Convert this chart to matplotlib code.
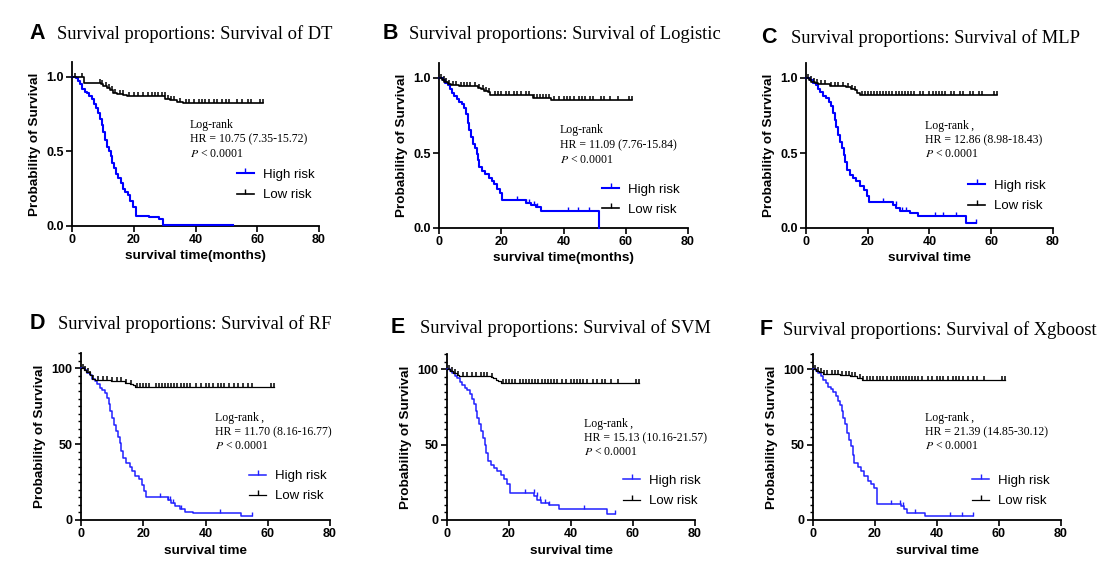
import matplotlib
matplotlib.use("Agg")
import matplotlib.pyplot as plt
import numpy as np
from matplotlib.lines import Line2D
from matplotlib.ticker import MultipleLocator, FormatStrFormatter

plt.rcParams['font.family'] = ['Liberation Sans', 'DejaVu Sans']
plt.rcParams['mathtext.fontset'] = 'stix'

# ---------------- data ----------------
letters = ["A", "B", "C", "D", "E", "F"]
titles = ["Survival proportions: Survival of DT",
          "Survival proportions: Survival of Logistic",
          "Survival proportions: Survival of MLP",
          "Survival proportions: Survival of RF",
          "Survival proportions: Survival of SVM",
          "Survival proportions: Survival of Xgboost"]
xlabels = ["survival time(months)", "survival time(months)", "survival time",
           "survival time", "survival time", "survival time"]
logrank_labels = ["Log-rank", "Log-rank", "Log-rank\u2009,", "Log-rank\u2009,", "Log-rank\u2009,", "Log-rank\u2009,"]
hr_labels = ["HR = 10.75 (7.35-15.72)", "HR = 11.09 (7.76-15.84)", "HR = 12.86 (8.98-18.43)",
             "HR = 11.70 (8.16-16.77)", "HR = 15.13 (10.16-21.57)", "HR = 21.39 (14.85-30.12)"]
p_label = r"$P$ < 0.0001"
series_names = ["High risk", "Low risk"]
x_ticks = [0, 20, 40, 60, 80]

# Panel A: DT (proportion)
dt_high_t = [0, 1.3, 2.0, 2.6, 3.4, 4.2, 4.9, 5.6, 6.4, 7.1, 7.8, 8.4, 9.1, 9.6, 10.2, 10.7, 11.2, 12.1, 12.5,
             13.1, 13.6, 14.2, 15.0, 15.8, 16.4, 17.2, 18.2, 18.8, 19.9, 20.7, 25.0, 28.3, 29.4, 52.0]
dt_high_s = [1.0, 0.99, 0.97, 0.95, 0.92, 0.90, 0.89, 0.87, 0.85, 0.82, 0.79, 0.76, 0.72, 0.68, 0.63, 0.58, 0.53,
             0.50, 0.47, 0.42, 0.39, 0.35, 0.32, 0.29, 0.25, 0.23, 0.21, 0.17, 0.13, 0.07, 0.06, 0.05, 0.01, 0.01]
dt_high_c = []
dt_low_t = [0, 4.0, 9.3, 10.2, 11.4, 12.3, 13.4, 14.5, 16.6, 17.7, 30.1, 31.7, 33.9, 36.1, 62.0]
dt_low_s = [1.0, 0.96, 0.955, 0.94, 0.925, 0.91, 0.89, 0.885, 0.88, 0.87, 0.855, 0.845, 0.835, 0.825, 0.825]
dt_low_c = [1.0, 3.3, 9.0, 9.8, 11.0, 12.0, 13.0, 14.0, 15.5, 16.5, 18.5, 20.0, 21.5, 23.0, 24.5, 26.0, 27.0,
            28.0, 29.0, 30.0, 31.0, 32.0, 33.0, 35.0, 37.0, 38.0, 39.5, 41.0, 42.0, 43.0, 44.5, 46.0, 47.0,
            48.5, 50.0, 51.0, 53.5, 55.0, 57.0, 58.0, 61.0, 62.0]

# Panel B: Logistic (proportion)
lg_high_t = [0, 1.2, 2.0, 2.8, 3.5, 4.2, 4.9, 5.7, 6.5, 7.4, 8.1, 8.7, 9.2, 9.7, 10.3, 11.0, 11.7, 12.1, 12.5,
             13.0, 13.8, 14.9, 16.0, 17.0, 17.8, 18.6, 19.6, 20.4, 27.9, 29.6, 31.2, 32.8, 51.5]
lg_high_s = [1.0, 0.985, 0.97, 0.955, 0.925, 0.90, 0.88, 0.86, 0.84, 0.825, 0.80, 0.76, 0.70, 0.65, 0.605, 0.56,
             0.53, 0.495, 0.45, 0.405, 0.38, 0.36, 0.335, 0.315, 0.29, 0.26, 0.23, 0.185, 0.165, 0.15, 0.14,
             0.115, 0.0]
lg_high_c = [25.0, 28.0, 29.0, 30.5, 31.5, 41.3, 44.5, 48.3]
lg_low_t = [0, 1.0, 1.7, 2.8, 3.9, 6.5, 10.8, 12.4, 13.5, 14.6, 15.6, 16.5, 30.1, 36.0, 62.0]
lg_low_s = [1.0, 0.99, 0.975, 0.96, 0.955, 0.95, 0.945, 0.935, 0.925, 0.915, 0.905, 0.885, 0.87, 0.855, 0.855]
lg_low_c = [0.5, 1.5, 2.3, 3.2, 4.5, 5.5, 7.0, 8.0, 9.0, 10.0, 11.5, 13.0, 14.0, 15.0, 16.0, 18.0, 19.0, 20.0,
            21.5, 22.5, 24.0, 25.0, 26.5, 28.0, 29.0, 30.5, 31.5, 32.5, 33.5, 34.5, 35.5, 37.0, 38.5, 40.0,
            41.0, 42.0, 43.5, 45.0, 46.0, 47.0, 48.5, 49.5, 52.0, 53.0, 55.0, 57.5, 61.0, 62.0]

# Panel C: MLP (proportion)
mlp_high_t = [0, 1.2, 2.3, 3.1, 3.9, 4.6, 5.5, 6.4, 7.5, 8.2, 8.7, 9.3, 9.8, 10.5, 11.1, 11.8, 12.3, 12.7, 13.3,
              14.1, 15.2, 16.3, 17.4, 18.7, 19.8, 20.4, 28.2, 29.3, 30.6, 33.6, 36.3, 51.7, 55.2]
mlp_high_s = [1.0, 0.985, 0.97, 0.955, 0.93, 0.91, 0.88, 0.865, 0.84, 0.81, 0.765, 0.72, 0.675, 0.62, 0.575,
              0.53, 0.485, 0.44, 0.385, 0.355, 0.33, 0.31, 0.28, 0.255, 0.215, 0.17, 0.15, 0.13, 0.115, 0.10,
              0.08, 0.035, 0.035]
mlp_high_c = [25.0, 29.0, 31.0, 32.5, 41.9, 44.4, 48.5, 55.2]
mlp_low_t = [0, 1.0, 1.7, 2.8, 3.9, 7.7, 10.9, 13.1, 14.7, 15.8, 16.6, 17.6, 62.0]
mlp_low_s = [1.0, 0.99, 0.975, 0.965, 0.958, 0.95, 0.947, 0.94, 0.93, 0.92, 0.90, 0.887, 0.887]
mlp_low_c = [0.8, 1.5, 2.5, 3.5, 5.0, 6.0, 8.0, 9.5, 10.5, 12.0, 13.5, 15.0, 16.0, 18.0, 19.0, 20.0, 21.0,
             22.0, 23.0, 24.0, 25.0, 26.0, 27.0, 28.0, 29.0, 30.0, 31.0, 32.0, 33.0, 34.0, 35.0, 37.0, 38.0,
             40.0, 41.0, 42.0, 43.0, 44.0, 45.0, 47.0, 48.0, 50.0, 51.0, 53.0, 54.0, 56.0, 57.0, 61.0, 62.0]

# Panel D: RF (percent)
rf_high_t = [0, 1.2, 2.0, 2.8, 3.5, 4.4, 5.2, 6.0, 6.7, 7.6, 8.2, 8.9, 9.4, 10.0, 10.6, 11.3, 11.9, 12.4, 13.0,
             13.5, 14.6, 15.6, 16.5, 17.5, 18.5, 19.6, 20.4, 20.8, 27.9, 29.0, 30.1, 31.7, 33.3, 36.0, 51.5, 54.9]
rf_high_s = [100, 99.0, 97.0, 95.4, 93.0, 91.6, 89.4, 87.2, 85.7, 83.4, 80.6, 76.2, 71.7, 67.3, 62.9, 58.5, 54.7,
             50.8, 45.3, 40.8, 37.5, 34.9, 32.0, 29.1, 26.9, 23.2, 18.8, 15.0, 13.2, 11.0, 9.3, 7.1, 5.5, 4.4,
             2.6, 2.6]
rf_high_c = [25.3, 28.0, 28.5, 29.5, 32.0, 44.5, 54.9]
rf_low_t = [0, 1.0, 1.7, 2.8, 3.5, 4.4, 9.7, 14.0, 15.6, 16.7, 17.5, 62.0]
rf_low_s = [100, 98.9, 97.6, 95.4, 93.2, 92.3, 91.4, 90.5, 89.8, 88.7, 87.6, 87.6]
rf_low_c = [0.5, 1.3, 2.2, 3.0, 4.0, 5.5, 7.0, 8.5, 10.0, 11.5, 13.0, 14.5, 16.0, 18.0, 19.0, 20.0, 21.0, 22.0,
            24.0, 25.0, 26.0, 27.0, 28.0, 29.0, 30.0, 31.0, 32.0, 33.0, 34.0, 35.0, 37.0, 38.5, 40.0, 41.0,
            42.5, 44.0, 45.0, 46.0, 47.5, 49.0, 50.5, 52.0, 53.5, 55.0, 61.0, 62.0]

# Panel E: SVM (percent)
svm_high_t = [0, 1.0, 1.7, 2.5, 3.3, 4.2, 4.9, 5.7, 6.6, 7.4, 8.2, 8.7, 9.2, 9.8, 10.4, 11.1, 11.7, 12.3, 12.7,
              13.2, 14.1, 15.2, 16.2, 17.3, 18.4, 19.5, 20.2, 28.1, 29.1, 30.4, 32.9, 36.1, 51.5, 54.1]
svm_high_s = [100, 98.7, 97.3, 95.6, 93.8, 91.6, 89.3, 87.6, 86.0, 83.3, 80.0, 76.7, 72.2, 67.8, 63.3, 58.9,
              54.4, 50.0, 44.4, 38.9, 36.7, 34.4, 32.2, 30.0, 27.1, 24.0, 17.8, 15.6, 13.3, 11.1, 10.0, 7.1,
              4.0, 4.0]
svm_high_c = [25.0, 28.0, 29.0, 30.0, 31.5, 33.0, 44.3, 54.1]
svm_low_t = [0, 1.0, 2.0, 3.1, 3.9, 14.1, 14.9, 15.7, 16.6, 17.5, 62.0]
svm_low_s = [100, 98.7, 97.3, 96.0, 95.1, 94.7, 93.8, 92.7, 91.8, 90.7, 90.7]
svm_low_c = [0.5, 1.5, 2.5, 3.5, 5.0, 6.5, 8.0, 9.5, 11.0, 12.0, 13.0, 14.5, 18.0, 19.0, 20.0, 21.0, 22.0, 23.5,
             24.5, 25.5, 26.5, 27.5, 28.5, 29.5, 30.5, 31.5, 32.5, 33.5, 34.5, 35.5, 37.0, 38.5, 40.0, 41.0,
             42.0, 43.0, 44.0, 45.0, 47.0, 48.5, 50.0, 51.0, 53.0, 55.0, 61.0, 62.0]

# Panel F: Xgboost (percent)
xgb_high_t = [0, 1.0, 1.7, 2.5, 3.3, 4.2, 4.9, 5.7, 6.6, 7.4, 8.2, 8.7, 9.2, 9.8, 10.4, 11.1, 11.7, 12.3, 12.8,
              13.3, 14.4, 15.5, 16.6, 17.6, 18.6, 19.7, 20.5, 28.3, 29.4, 30.4, 36.1, 51.7]
xgb_high_s = [100, 98.7, 97.3, 95.1, 92.9, 90.7, 88.4, 86.7, 84.9, 82.2, 78.9, 76.0, 72.2, 67.8, 63.3, 57.8,
              53.3, 48.9, 43.3, 37.8, 35.1, 32.2, 28.9, 26.0, 23.8, 21.1, 10.7, 9.3, 7.1, 4.9, 2.9, 2.9]
xgb_high_c = [25.0, 28.0, 29.0, 33.0, 44.3, 48.2, 51.7]
xgb_low_t = [0, 1.0, 2.0, 3.1, 8.7, 11.9, 14.1, 15.7, 16.6, 62.0]
xgb_low_s = [100, 98.9, 97.8, 96.7, 96.0, 95.1, 93.8, 92.9, 92.5, 92.5]
xgb_low_c = [0.5, 1.5, 2.5, 3.5, 4.5, 6.0, 7.0, 8.0, 9.5, 10.5, 11.5, 12.5, 13.5, 15.0, 16.0, 17.5, 18.5, 19.5,
             20.5, 21.5, 22.5, 24.0, 25.0, 26.0, 27.0, 28.0, 29.0, 30.0, 31.0, 32.0, 33.0, 34.0, 35.0, 37.0,
             38.5, 40.0, 41.0, 42.0, 43.5, 45.0, 46.0, 47.0, 48.5, 50.0, 51.5, 53.0, 55.0, 61.0, 62.0]

high_t = [dt_high_t, lg_high_t, mlp_high_t, rf_high_t, svm_high_t, xgb_high_t]
high_s = [dt_high_s, lg_high_s, mlp_high_s, rf_high_s, svm_high_s, xgb_high_s]
high_c = [dt_high_c, lg_high_c, mlp_high_c, rf_high_c, svm_high_c, xgb_high_c]
low_t = [dt_low_t, lg_low_t, mlp_low_t, rf_low_t, svm_low_t, xgb_low_t]
low_s = [dt_low_s, lg_low_s, mlp_low_s, rf_low_s, svm_low_s, xgb_low_s]
low_c = [dt_low_c, lg_low_c, mlp_low_c, rf_low_c, svm_low_c, xgb_low_c]

# ---------------- layout ----------------
W, H = 1118, 582
fig = plt.figure(figsize=(W / 100, H / 100), dpi=100)

# axes boxes in pixels: left, top, right, bottom
boxes = [(72, 62, 319, 226), (439, 63, 688, 228), (806, 63, 1053, 228),
         (81, 353, 330, 520), (447, 354, 695, 520), (813, 354, 1061, 520)]
letter_pos = [(29, 39), (383, 39), (761, 43), (30, 329), (391, 333), (760, 335)]
title_x = [57, 409, 791, 58, 420, 783]
# annotation: x (data), baselines (fraction of y-range)
ann_x = [38.2, 38.9, 38.5, 43.0, 44.2, 36.1]
ann_y = [(0.597, 0.511, 0.423), (0.577, 0.486, 0.396), (0.598, 0.514, 0.432),
         (0.592, 0.505, 0.425), (0.559, 0.475, 0.394), (0.595, 0.511, 0.430)]
leg_anchor = [(0.667, 0.25), (0.655, 0.172), (0.656, 0.194), (0.675, 0.203), (0.71, 0.175), (0.641, 0.175)]

blue_top, blue_bot = "#0000ff", "#2020ff"


def step_value(t, s, c):
    idx = np.searchsorted(np.asarray(t), np.asarray(c), side="right") - 1
    return np.asarray(s)[idx]


for i in range(6):
    l, t, r, b = boxes[i]
    ax = fig.add_axes([l / W, 1 - b / H, (r - l) / W, (b - t) / H])
    top = i < 3
    ymax = 1.1 if top else 110
    blue = blue_top if top else blue_bot
    lw_b = 1.5 if top else 1.1
    lw_k = 1.2 if top else 0.9

    ax.step(high_t[i], high_s[i], where="post", color=blue, lw=lw_b, clip_on=False, zorder=3)
    ax.step(low_t[i], low_s[i], where="post", color="black", lw=lw_k, clip_on=False, zorder=3)
    if len(high_c[i]):
        ax.plot(high_c[i], step_value(high_t[i], high_s[i], high_c[i]), ls="none", marker=2,
                ms=2.8, mew=1.0, color=blue, clip_on=False, zorder=4)
    ax.plot(low_c[i], step_value(low_t[i], low_s[i], low_c[i]), ls="none", marker=2,
            ms=2.8, mew=1.1, color="black", clip_on=False, zorder=4)

    ax.set_xlim(0, 80)
    ax.set_ylim(0, ymax)
    ax.set_xticks(x_ticks)
    if top:
        ax.set_yticks([0, 0.5, 1.0])
        ax.yaxis.set_major_formatter(FormatStrFormatter("%.1f"))
    else:
        ax.set_yticks([0, 50, 100])
        ax.yaxis.set_minor_locator(MultipleLocator(5))
    for sp in ["top", "right"]:
        ax.spines[sp].set_visible(False)
    for sp in ["left", "bottom"]:
        ax.spines[sp].set_linewidth(1.3)
    ax.tick_params(which="major", direction="out", length=4, width=1.2, labelsize=9, pad=2)
    ax.tick_params(which="minor", direction="out", length=2.5, width=1.0)
    for lab in ax.get_xticklabels() + ax.get_yticklabels():
        lab.set_fontweight("bold")
    ax.set_ylabel("Probability of Survival", fontsize=9.7, fontweight="bold", labelpad=4)
    ax.set_xlabel(xlabels[i], fontsize=9.7, fontweight="bold", labelpad=3)

    # annotation
    serif = "Liberation Serif"
    ya = ann_y[i]
    ax.text(ann_x[i], ya[0] * ymax, logrank_labels[i], family=serif, fontsize=8.5, va="baseline", ha="left")
    ax.text(ann_x[i], ya[1] * ymax, hr_labels[i], family=serif, fontsize=8.5, va="baseline", ha="left")
    ax.text(ann_x[i], ya[2] * ymax, p_label, family=serif, fontsize=8.5, va="baseline", ha="left")

    handles = [Line2D([], [], color=blue, lw=lw_b, marker=2, ms=3.5, mew=1.0),
               Line2D([], [], color="black", lw=lw_k, marker=2, ms=3.5, mew=1.0)]
    ax.legend(handles, series_names, loc="center left", bbox_to_anchor=leg_anchor[i],
              frameon=False, fontsize=9.5, handlelength=1.3, handletextpad=0.7,
              labelspacing=0.6, borderpad=0, borderaxespad=0, numpoints=1)

    # titles
    lx, ly = letter_pos[i]
    fig.text(lx / W, 1 - ly / H, letters[i], fontsize=15.5, fontweight="bold", va="baseline", ha="left")
    fig.text(title_x[i] / W, 1 - ly / H, titles[i], family="Liberation Serif", fontsize=13.3,
             va="baseline", ha="left")

fig.savefig("out.png", dpi=100)
